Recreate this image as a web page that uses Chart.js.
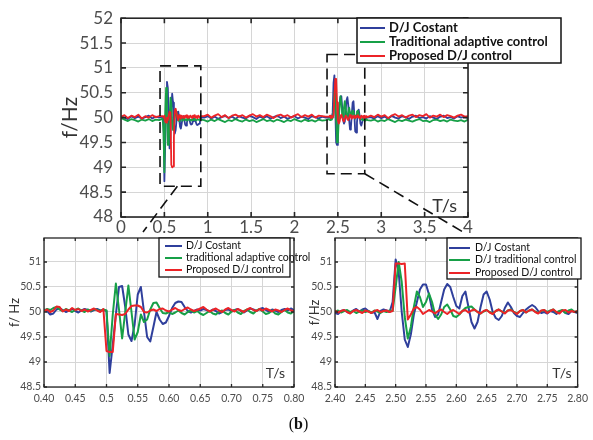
<!DOCTYPE html>
<html>
<head>
<meta charset="utf-8">
<script src="https://cdn.jsdelivr.net/npm/chart.js"></script>
<style>
  body { margin: 0; background: #fff; }
  #wrap { position: relative; width: 593px; height: 440px; }
  #wrap canvas { position: absolute; left: 0; top: 0; }
  #cap { position: absolute; left: 0; top: 415px; width: 597px; text-align: center;
         font: 16px "Liberation Serif", serif; color: #111; }
</style>
</head>
<body>
<div id="wrap">
  <canvas id="chartMain" width="593" height="440"></canvas>
  <canvas id="chartB" width="593" height="440"></canvas>
  <canvas id="chartA" width="593" height="440"></canvas>
  <div id="cap">(<b>b</b>)</div>
</div>

<script>
// ---- tick labels and legend names ----
const mainYLabels = ['48', '48.5', '49', '49.5', '50', '50.5', '51', '51.5', '52'];
const mainXLabels = ['0', '0.5', '1', '1.5', '2', '2.5', '3', '3.5', '4'];
const insetYLabels = ['48.5', '49', '49.5', '50', '50.5', '51'];
const insetAXLabels = ['0.40', '0.45', '0.5', '0.55', '0.60', '0.65', '0.70', '0.75', '0.80'];
const insetBXLabels = ['2.40', '2.45', '2.50', '2.55', '2.60', '2.65', '2.70', '2.75', '2.80'];

const mainNames = ['D/J Costant', 'Traditional adaptive control', 'Proposed D/J control'];
const insetANames = ['D/J Costant', 'traditional adaptive control', 'Proposed D/J control'];
const insetBNames = ['D/J Costant', 'D/J traditional control', 'Proposed D/J control'];

// ---- main chart (0..4 s): quiet parts every 0.04 s, disturbances every 0.01 s ----
// quiet A: 0 .. 0.44
const blueQuietA  = [50.02, 50.0, 49.97, 50.03, 49.99, 50.02, 49.98, 50.01, 50.04, 49.98, 50.02, 50.0];
const greenQuietA = [49.99, 49.96, 49.93, 49.97, 49.95, 49.92, 49.96, 49.94, 49.97, 49.93, 49.96, 49.95];
const redQuietA   = [50.02, 50.05, 49.99, 50.04, 50.01, 50.06, 49.98, 50.03, 50.0, 50.05, 50.01, 50.03];
// event 1: 0.48 .. 0.92
const blueEvent1 = [50.02, 50.0, 48.72, 49.5, 50.3, 50.72, 50.6, 49.9, 49.38, 49.6,
  50.2, 50.48, 50.3, 49.9, 49.68, 49.75, 49.95, 50.1, 50.12, 50.0,
  49.82, 49.78, 49.88, 50.0, 50.03, 49.95, 49.86, 49.84, 49.9, 49.98,
  50.0, 49.95, 49.88, 49.86, 49.87, 49.93, 49.98, 49.97, 49.92, 49.87,
  49.85, 49.86, 49.88, 49.95, 50.0];
const greenEvent1 = [49.98, 49.7, 48.9, 50.1, 50.6, 50.1, 49.45, 49.45, 50.0, 50.4,
  50.3, 49.9, 49.75, 49.85, 50.0, 50.1, 50.12, 50.02, 49.94, 49.93,
  49.97, 50.02, 49.98, 49.94, 49.96, 49.98, 49.95, 49.97, 49.94, 49.96,
  49.98, 49.95, 49.96, 49.94, 49.97, 49.95, 49.96, 49.98, 49.95, 49.94,
  49.97, 49.96, 49.95, 49.97, 49.96];
const redEvent1 = [50.03, 50.0, 50.04, 49.92, 49.9, 50.0, 49.95, 50.05, 50.12, 50.1,
  49.05, 49.0, 49.02, 49.6, 50.15, 50.18, 50.1, 50.0, 49.95, 50.05,
  50.02, 49.98, 50.04, 50.0, 50.03, 49.99, 50.04, 50.01, 50.05, 49.99,
  50.03, 50.0, 50.04, 50.02, 49.99, 50.04, 50.01, 50.05, 50.0, 50.03,
  49.99, 50.04, 50.02, 50.0, 50.03];
// quiet B: 0.96 .. 2.36
const blueQuietB = [50.0, 50.03, 49.98, 50.02, 49.97, 50.01, 50.04, 49.99, 50.02, 49.97,
  50.03, 50.0, 49.98, 50.04, 50.01, 49.97, 50.02, 49.99, 50.03, 49.98,
  50.01, 50.04, 49.99, 50.02, 49.97, 50.01, 50.03, 49.98, 50.02, 50.0,
  49.97, 50.03, 50.01, 49.98, 50.02, 50.0];
const greenQuietB = [49.95, 49.92, 49.96, 49.93, 49.97, 49.94, 49.91, 49.95, 49.93, 49.97,
  49.94, 49.92, 49.96, 49.93, 49.95, 49.91, 49.94, 49.97, 49.93, 49.95,
  49.92, 49.96, 49.94, 49.91, 49.95, 49.93, 49.97, 49.94, 49.92, 49.96,
  49.93, 49.95, 49.92, 49.96, 49.94, 49.95];
const redQuietB = [50.03, 50.06, 50.0, 50.04, 50.07, 50.01, 50.05, 49.99, 50.04, 50.06,
  50.02, 50.05, 50.0, 50.04, 50.07, 50.02, 50.05, 50.01, 50.06, 50.03,
  49.99, 50.04, 50.06, 50.02, 50.05, 50.0, 50.04, 50.07, 50.01, 50.05,
  50.02, 50.06, 50.0, 50.04, 50.03, 50.02];
// event 2: 2.40 .. 2.84
const blueEvent2 = [50.0, 50.03, 49.98, 50.02, 50.1, 50.7, 50.85, 50.2, 49.5, 49.45,
  49.8, 50.1, 50.3, 50.42, 50.43, 50.2, 49.95, 49.88, 49.92, 50.15,
  50.35, 50.41, 50.25, 49.95, 49.76, 49.8, 50.05, 50.3, 50.33, 50.05,
  49.72, 49.7, 49.9, 50.1, 50.16, 50.05, 49.88, 49.84, 49.9, 49.98,
  50.03, 50.0, 49.97, 50.02, 50.0];
const greenEvent2 = [49.97, 49.95, 49.98, 49.96, 50.0, 50.1, 50.5, 50.65, 50.0, 49.5,
  49.55, 49.95, 50.25, 50.43, 50.3, 50.05, 50.02, 50.2, 50.33, 50.2,
  50.03, 50.0, 50.12, 50.2, 50.1, 50.02, 50.05, 50.14, 50.12, 50.03,
  49.98, 50.05, 50.12, 50.14, 50.08, 50.02, 49.98, 49.96, 49.97, 49.95,
  49.97, 49.96, 49.94, 49.97, 49.95];
const redEvent2 = [50.02, 50.04, 49.99, 50.03, 50.0, 50.03, 50.4, 50.78, 50.78, 50.3,
  49.95, 49.88, 49.92, 50.03, 50.06, 50.0, 49.95, 49.92, 49.98, 50.04,
  50.02, 49.97, 49.95, 50.0, 50.05, 50.02, 49.98, 50.03, 50.0, 50.04,
  49.99, 50.03, 50.01, 50.05, 50.0, 50.02, 49.98, 50.04, 50.01, 50.03,
  49.99, 50.04, 50.0, 50.03, 50.01];
// quiet C: 2.88 .. 4.00
const blueQuietC = [50.01, 49.98, 50.03, 49.99, 50.02, 49.97, 50.04, 50.0, 49.98, 50.03,
  50.01, 49.97, 50.02, 50.04, 49.99, 50.01, 49.98, 50.03, 50.0, 49.97,
  50.02, 50.04, 49.99, 50.01, 49.98, 50.03, 50.0, 50.02, 49.99];
const greenQuietC = [49.94, 49.96, 49.92, 49.95, 49.93, 49.97, 49.94, 49.91, 49.95, 49.93,
  49.96, 49.94, 49.92, 49.95, 49.97, 49.93, 49.94, 49.91, 49.95, 49.96,
  49.93, 49.95, 49.92, 49.96, 49.94, 49.93, 49.95, 49.92, 49.96];
const redQuietC = [50.04, 50.01, 50.06, 50.02, 50.05, 49.99, 50.04, 50.07, 50.02, 50.05,
  50.0, 50.04, 50.06, 50.01, 50.05, 50.03, 50.07, 50.0, 50.04, 50.02,
  50.06, 50.01, 50.05, 50.03, 50.0, 50.04, 50.06, 50.02, 50.03];

// ---- inset A: 0.40 .. 0.80 s every 0.005 s ----
const blueInsetA = [50.05, 50.02, 49.95, 49.97, 50.05, 50.08, 50.04, 50.0, 50.03, 50.06,
  50.02, 49.99, 50.03, 50.06, 50.04, 50.01, 50.04, 50.06, 50.03, 50.04,
  50.02, 48.78, 49.35, 49.95, 50.5, 50.52, 50.1, 49.55, 49.42, 49.75,
  50.35, 50.5, 50.0, 49.5, 49.41, 49.7, 50.0, 49.85, 49.76, 49.79,
  49.92, 50.08, 50.18, 50.21, 50.2, 50.1, 50.02, 49.99, 50.02, 50.05,
  50.03, 50.06, 50.04, 50.01, 50.05, 50.02, 49.97, 50.0, 50.04, 50.05,
  50.01, 50.04, 50.06, 50.02, 49.99, 50.03, 50.07, 50.05, 50.02, 50.06,
  50.08, 50.04, 50.01, 50.05, 50.03, 50.0, 50.04, 50.06, 50.03, 50.07,
  50.04];
const greenInsetA = [50.03, 50.06, 50.04, 50.08, 50.1, 50.05, 50.02, 50.06, 50.03, 50.0,
  50.04, 50.07, 50.03, 50.0, 50.05, 50.02, 50.06, 50.04, 50.02, 50.05,
  50.03, 49.12, 49.95, 50.57, 50.05, 49.47, 50.0, 50.53, 50.0, 49.45,
  49.6, 49.95, 49.8, 49.85, 50.05, 50.18, 50.19, 50.08, 49.98, 49.97,
  50.0, 49.96, 49.99, 50.03, 49.98, 49.95, 50.0, 50.03, 49.99, 50.02,
  49.97, 49.94, 49.98, 50.02, 49.97, 49.95, 50.0, 50.03, 49.98, 49.95,
  50.01, 50.04, 49.99, 49.96, 50.02, 50.05, 50.0, 49.97, 50.03, 50.06,
  50.01, 49.96, 49.98, 50.03, 49.97, 49.95, 50.0, 50.04, 49.99, 49.97,
  50.02];
const redInsetA = [50.02, 50.05, 50.0, 50.03, 50.11, 50.1, 50.01, 50.05, 50.02, 50.08,
  50.04, 50.06, 50.02, 50.05, 50.01, 50.04, 50.07, 50.03, 50.0, 50.06,
  49.22, 49.2, 49.2, 49.96, 49.95, 49.94, 49.96, 50.05, 50.12, 50.13,
  50.13, 50.1, 50.0, 49.99, 50.03, 50.05, 50.02, 50.06, 50.07, 50.03,
  50.01, 50.05, 50.08, 50.04, 50.02, 50.06, 50.09, 50.05, 50.02, 50.04,
  50.07, 50.1, 50.05, 50.01, 50.04, 50.07, 50.03, 50.0, 50.05, 50.08,
  50.04, 50.01, 50.06, 50.03, 50.0, 50.05, 50.08, 50.04, 50.02, 50.06,
  50.03, 50.07, 50.04, 50.01, 50.05, 50.03, 50.0, 50.04, 50.07, 50.03,
  50.02];

// ---- inset B: 2.40 .. 2.80 s every 0.005 s ----
const blueInsetB = [49.98, 49.96, 50.02, 50.04, 50.0, 49.98, 50.03, 50.06, 50.01, 50.05,
  50.07, 50.02, 49.98, 50.0, 49.86, 50.02, 50.05, 50.03, 50.0, 50.2,
  51.05, 50.8, 50.0, 49.45, 49.3, 49.55, 49.95, 50.2, 50.45, 50.55,
  50.55, 50.35, 50.05, 49.9, 49.95, 50.2, 50.45, 50.56, 50.5, 50.3,
  50.12, 50.07, 50.32, 50.41, 50.1, 49.8, 49.67, 49.8, 50.1, 50.35,
  50.41, 50.25, 50.0, 49.88, 49.84, 49.92, 50.08, 50.19, 50.1, 49.98,
  49.92, 49.9, 49.98, 50.05, 50.1, 50.14, 50.1, 50.02, 49.98, 50.0,
  49.97, 50.02, 50.0, 49.96, 50.01, 50.03, 49.98, 49.96, 50.02, 50.0,
  49.98];
const greenInsetB = [50.01, 50.03, 49.99, 50.02, 50.04, 50.0, 50.02, 49.98, 50.01, 50.03,
  50.0, 50.02, 49.99, 50.03, 50.01, 49.98, 50.02, 50.0, 50.03, 50.02,
  50.5, 51.0, 50.6, 49.9, 49.47, 49.7, 50.1, 50.41, 50.3, 50.1,
  50.2, 50.37, 50.2, 49.95, 49.86, 49.95, 50.1, 50.15, 50.05, 49.92,
  49.9, 49.95, 50.02, 50.08, 50.1, 50.11, 50.05, 50.0, 49.97, 50.01,
  50.04, 50.0, 49.97, 50.02, 50.05, 50.01, 49.98, 50.03, 50.05, 50.0,
  49.97, 50.02, 50.04, 49.99, 50.03, 50.05, 50.01, 49.98, 50.02, 50.04,
  50.0, 50.03, 50.05, 49.99, 50.02, 50.04, 49.98, 50.03, 50.05, 50.0,
  50.02];
const redInsetB = [50.03, 49.99, 50.02, 50.04, 50.0, 49.97, 50.02, 50.04, 50.01, 49.98,
  50.03, 50.01, 49.98, 50.02, 50.04, 50.0, 50.02, 50.03, 50.0, 50.02,
  50.97, 50.97, 50.96, 50.97, 49.85, 49.95, 50.07, 50.1, 50.05, 49.96,
  50.0, 50.04, 50.01, 49.97, 50.02, 50.05, 50.0, 49.96, 50.01, 50.04,
  50.0, 49.96, 50.02, 50.04, 49.99, 50.03, 50.05, 50.0, 49.97, 50.02,
  50.04, 49.99, 49.96, 50.02, 50.05, 50.01, 49.97, 50.03, 50.04, 50.0,
  49.96, 50.02, 50.04, 49.99, 50.03, 50.05, 50.0, 49.97, 50.03, 50.04,
  49.98, 50.02, 50.05, 50.0, 49.97, 50.03, 50.04, 49.99, 50.02, 50.0,
  50.02];

const colors = ['#2f3f9c', '#17a047', '#ec2327'];

// pair a run of values with its sample times
function seg(t0, dt, vals) {
  return vals.map((v, i) => ({ x: +(t0 + i * dt).toFixed(4), y: v }));
}

const blueMain = [...seg(0, 0.04, blueQuietA), ...seg(0.48, 0.01, blueEvent1), ...seg(0.96, 0.04, blueQuietB),
  ...seg(2.40, 0.01, blueEvent2), ...seg(2.88, 0.04, blueQuietC)];
const greenMain = [...seg(0, 0.04, greenQuietA), ...seg(0.48, 0.01, greenEvent1), ...seg(0.96, 0.04, greenQuietB),
  ...seg(2.40, 0.01, greenEvent2), ...seg(2.88, 0.04, greenQuietC)];
const redMain = [...seg(0, 0.04, redQuietA), ...seg(0.48, 0.01, redEvent1), ...seg(0.96, 0.04, redQuietB),
  ...seg(2.40, 0.01, redEvent2), ...seg(2.88, 0.04, redQuietC)];

Chart.defaults.font.family = 'Lato';

function buildSets(names, series, width) {
  // red drawn last (on top), blue first
  return series.map((pts, i) => ({
    label: names[i], data: pts, borderColor: colors[i], backgroundColor: colors[i],
    borderWidth: width, pointRadius: 0, tension: 0, order: 2 - i, borderJoinStyle: 'round'
  }));
}

function axes(o) {
  return {
    x: {
      type: 'linear', min: o.xMin, max: o.xMax,
      afterFit: s => { s.height = o.xH; },
      grid: { color: '#d6d6d6', drawTicks: false }, border: { display: false },
      ticks: { stepSize: o.xStep, autoSkip: false, maxRotation: 0, padding: o.xPad, color: '#4d4d4d',
               font: { size: o.tickSize }, callback: (v, i) => o.xLabels[i] }
    },
    y: {
      type: 'linear', min: o.yMin, max: o.yMax,
      afterFit: s => { s.width = o.yW; },
      grid: { color: '#d6d6d6', drawTicks: false }, border: { display: false },
      ticks: { stepSize: 0.5, includeBounds: false, autoSkip: false, padding: o.yPad, color: '#4d4d4d',
               font: { size: o.tickSize }, callback: (v, i) => o.yLabels[i] },
      title: { display: true, text: o.yTitle, color: '#333', font: { size: o.titleSize },
               padding: { top: o.titlePad, bottom: 0 } }
    }
  };
}

// plot frame with inward tick marks
const frame = {
  id: 'frame',
  afterDatasetsDraw(chart, args, o) {
    const { ctx, chartArea: a, scales: { x, y } } = chart;
    ctx.save();
    ctx.strokeStyle = '#262626';
    ctx.lineWidth = o.width;
    ctx.beginPath();
    x.ticks.forEach(t => {
      const px = x.getPixelForValue(t.value);
      ctx.moveTo(px, a.bottom); ctx.lineTo(px, a.bottom - o.tick);
      ctx.moveTo(px, a.top); ctx.lineTo(px, a.top + o.tick);
    });
    y.ticks.forEach(t => {
      const py = y.getPixelForValue(t.value);
      ctx.moveTo(a.left, py); ctx.lineTo(a.left + o.tick, py);
      ctx.moveTo(a.right, py); ctx.lineTo(a.right - o.tick, py);
    });
    ctx.stroke();
    ctx.strokeRect(a.left, a.top, a.right - a.left, a.bottom - a.top);
    ctx.restore();
  }
};

// boxed legend in the MATLAB style
const boxLegend = {
  id: 'boxLegend',
  afterDraw(chart, args, o) {
    const ctx = chart.ctx;
    ctx.save();
    ctx.fillStyle = '#fff';
    ctx.fillRect(o.x, o.y, o.w, o.h);
    ctx.strokeStyle = '#111';
    ctx.lineWidth = o.border;
    ctx.strokeRect(o.x, o.y, o.w, o.h);
    ctx.font = o.font;
    ctx.textBaseline = 'middle';
    chart.data.datasets.forEach((ds, i) => {
      const ry = o.rows[i];
      ctx.strokeStyle = ds.borderColor;
      ctx.lineWidth = o.lineWidth;
      ctx.beginPath(); ctx.moveTo(o.x0, ry); ctx.lineTo(o.x1, ry); ctx.stroke();
      ctx.fillStyle = '#111';
      ctx.fillText(ds.label, o.tx, ry);
    });
    ctx.restore();
  }
};

// "T/s" inside the lower right corner
const cornerText = {
  id: 'cornerText',
  afterDraw(chart, args, o) {
    const { ctx, chartArea: a } = chart;
    ctx.save();
    ctx.font = o.font; ctx.fillStyle = '#333';
    ctx.textAlign = 'right'; ctx.textBaseline = 'alphabetic';
    ctx.fillText(o.text, a.right - o.dx, a.bottom - o.dy);
    ctx.restore();
  }
};

// dashed zoom boxes and the leader lines towards the insets
const zoomMarks = {
  id: 'zoomMarks',
  afterDraw(chart, args, o) {
    const { ctx, scales: { x, y } } = chart;
    ctx.save();
    ctx.setLineDash([11, 6]);
    ctx.lineWidth = 1.6;
    ctx.strokeStyle = '#111';
    o.boxes.forEach(b => {
      const l = x.getPixelForValue(b.x0), r = x.getPixelForValue(b.x1);
      const t = y.getPixelForValue(b.y1), bt = y.getPixelForValue(b.y0);
      ctx.strokeRect(l, t, r - l, bt - t);
      ctx.beginPath();
      ctx.moveTo(x.getPixelForValue(b.lx), bt);
      ctx.lineTo(b.ex, b.ey);
      ctx.stroke();
    });
    ctx.restore();
  }
};

new Chart(document.getElementById('chartMain'), {
  type: 'line',
  data: { datasets: buildSets(mainNames, [blueMain, greenMain, redMain], 1.8) },
  options: {
    responsive: false, animation: false,
    layout: { padding: { left: 55, top: 10, right: 125, bottom: 193 } },
    plugins: {
      legend: { display: false }, tooltip: { enabled: false },
      frame: { width: 1.6, tick: 5 },
      zoomMarks: { boxes: [
        { x0: 0.45, x1: 0.92, y0: 48.62, y1: 51.04, lx: 0.65, ex: 143, ey: 232 },
        { x0: 2.375, x1: 2.81, y0: 48.87, y1: 51.27, lx: 2.81, ex: 463, ey: 232 }
      ] },
      boxLegend: { x: 357, y: 18, w: 204, h: 45, border: 1.5, lineWidth: 2,
                   x0: 360, x1: 385, tx: 389, rows: [28, 42, 56], font: 'bold 13px Lato' },
      cornerText: { text: 'T/s', font: '18px Lato', dx: 11, dy: 5 }
    },
    scales: axes({ xMin: 0, xMax: 4, xStep: 0.5, xLabels: mainXLabels, xH: 30, xPad: 0,
                   yMin: 48, yMax: 52, yLabels: mainYLabels, yW: 66, yPad: 8,
                   tickSize: 17, yTitle: 'f/Hz', titleSize: 21, titlePad: 3 })
  },
  plugins: [frame, zoomMarks, boxLegend, cornerText]
});

new Chart(document.getElementById('chartA'), {
  type: 'line',
  data: { datasets: buildSets(insetANames, [seg(0.40, 0.005, blueInsetA), seg(0.40, 0.005, greenInsetA), seg(0.40, 0.005, redInsetA)], 2) },
  options: {
    responsive: false, animation: false,
    layout: { padding: { left: 0, top: 238, right: 299, bottom: 33 } },
    plugins: {
      legend: { display: false }, tooltip: { enabled: false },
      frame: { width: 1.3, tick: 3 },
      boxLegend: { x: 159, y: 238, w: 131, h: 39, border: 1.3, lineWidth: 2,
                   x0: 165, x1: 182, tx: 186, rows: [246, 258, 270], font: '10.5px Lato' },
      cornerText: { text: 'T/s', font: '14px Lato', dx: 9, dy: 9 }
    },
    scales: axes({ xMin: 0.40, xMax: 0.80, xStep: 0.05, xLabels: insetAXLabels, xH: 20, xPad: 5,
                   yMin: 48.5, yMax: 51.48, yLabels: insetYLabels, yW: 44, yPad: 3,
                   tickSize: 10.5, yTitle: 'f/ Hz', titleSize: 13, titlePad: 7 })
  },
  plugins: [frame, boxLegend, cornerText]
});

new Chart(document.getElementById('chartB'), {
  type: 'line',
  data: { datasets: buildSets(insetBNames, [seg(2.40, 0.005, blueInsetB), seg(2.40, 0.005, greenInsetB), seg(2.40, 0.005, redInsetB)], 2) },
  options: {
    responsive: false, animation: false,
    layout: { padding: { left: 295, top: 238, right: 11, bottom: 33 } },
    plugins: {
      legend: { display: false }, tooltip: { enabled: false },
      frame: { width: 1.3, tick: 3 },
      boxLegend: { x: 447, y: 238, w: 134, h: 41, border: 1.3, lineWidth: 2,
                   x0: 449, x1: 470, tx: 475, rows: [248, 260, 273], font: '10.5px Lato' },
      cornerText: { text: 'T/s', font: '14px Lato', dx: 6, dy: 9 }
    },
    scales: axes({ xMin: 2.40, xMax: 2.80, xStep: 0.05, xLabels: insetBXLabels, xH: 20, xPad: 5,
                   yMin: 48.5, yMax: 51.48, yLabels: insetYLabels, yW: 40, yPad: 3,
                   tickSize: 10.5, yTitle: 'f/Hz', titleSize: 13, titlePad: 12 })
  },
  plugins: [frame, boxLegend, cornerText]
});
</script>
</body>
</html>
